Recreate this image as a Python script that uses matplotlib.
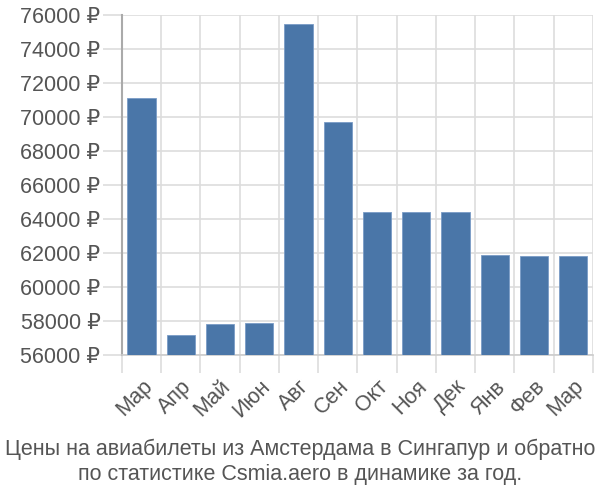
import numpy as np, matplotlib
matplotlib.use('Agg'); import matplotlib.pyplot as plt

months=['Мар','Апр','Май','Июн','Авг','Сен','Окт','Ноя','Дек','Янв','Фев','Мар']
prices=[71100,57200,57800,57900,75500,69700,64400,64400,64400,61900,61800,61800]
yticks=list(range(56000,76001,2000))
title='Цены на авиабилеты из Амстердама в Сингапур и обратно\nпо статистике Csmia.aero в динамике за год.'

plt.rcParams['font.family']=['Liberation Sans','DejaVu Sans']
fig=plt.figure(figsize=(6,5),dpi=100)
ax=fig.add_axes([0.2033,0.29,0.785,0.68])
x=np.arange(len(months))
ax.bar(x,np.array(prices)-56000,bottom=56000,width=0.72,color='#4a76a8',edgecolor='#7a9cc6',lw=0.6,zorder=3)
ax.set_xlim(-0.5,len(months)-0.5); ax.set_ylim(56000,76000)
ax.set_yticks(yticks); ax.set_yticklabels([f'{v} ₽' for v in yticks])
ax.set_xticks(x); ax.set_xticklabels(months,rotation=45,ha='right',va='top',rotation_mode='anchor')
ax.set_xticks(np.arange(-0.5,len(months),1),minor=True)
ax.tick_params(axis='x',which='major',length=0,pad=15,labelsize=15.5,labelcolor='#555')
ax.tick_params(axis='x',which='minor',length=13,width=1.2,color='#ddd')
ax.tick_params(axis='y',length=14,width=1.2,color='#ddd',pad=1.5,labelsize=15.5,labelcolor='#555')
ax.grid(axis='x',which='minor',color='#ddd',lw=1.2,zorder=0)
ax.grid(axis='y',which='major',color='#ddd',lw=1.2,zorder=0)
for s in ('top','right'): ax.spines[s].set_visible(False)
ax.spines['left'].set_color('#aaa'); ax.spines['left'].set_linewidth(1.5)
ax.spines['bottom'].set_color('#ccc'); ax.spines['bottom'].set_linewidth(1.2)
fig.text(0.5,0.077,title,ha='center',va='center',fontsize=15.5,color='#555',linespacing=1.25)
fig.savefig('out.png',dpi=100)
